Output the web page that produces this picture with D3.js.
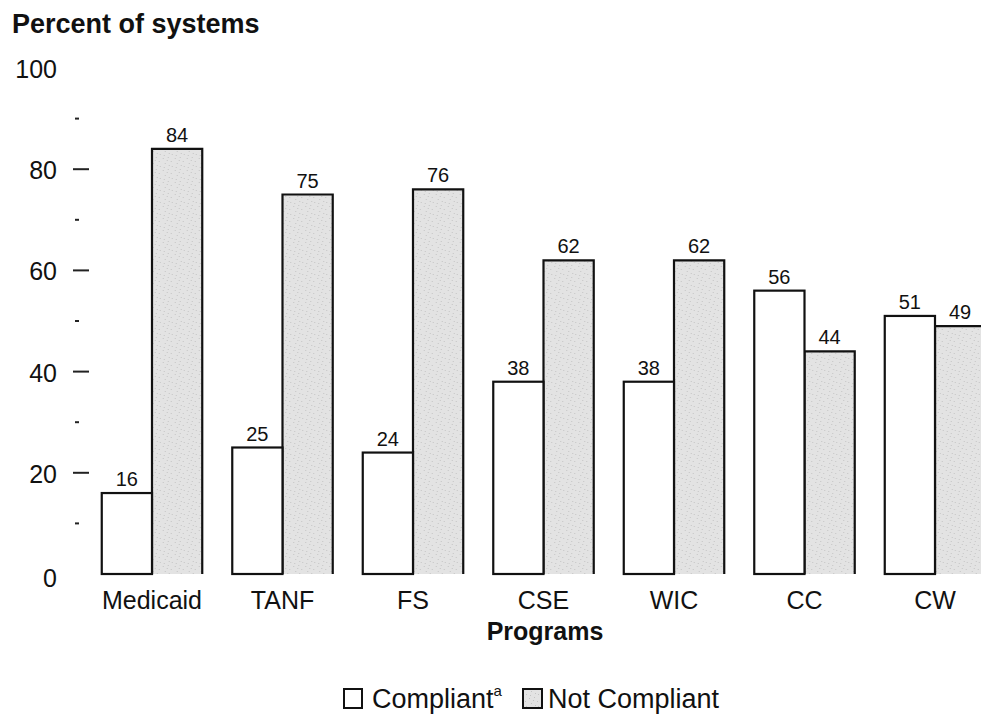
<!DOCTYPE html>
<html>
<head>
<meta charset="utf-8">
<script src="https://cdn.jsdelivr.net/npm/d3@7"></script>
<style>
  body { margin: 0; background: #fff; }
  svg { display: block; font-family: "Liberation Sans", Arial, Helvetica, sans-serif; }
</style>
</head>
<body>
<div id="container"></div>
<script>
// ---------------- data ----------------
var programs = ["Medicaid", "TANF", "FS", "CSE", "WIC", "CC", "CW"];
var compliant = [16, 25, 24, 38, 38, 56, 51];
var notCompliant = [84, 75, 76, 62, 62, 44, 49];
var seriesNames = ["Compliant", "Not Compliant"];
var majorTicks = [0, 20, 40, 60, 80, 100];
var minorTicks = [10, 30, 50, 70, 90];

// ---------------- setup ----------------
var width = 981;
var height = 727;

var svg = d3.select("#container").append("svg")
    .attr("width", width)
    .attr("height", height);

// stippled grey fill for the "not compliant" bars
var defs = svg.append("defs");
var pat = defs.append("pattern")
    .attr("id", "stipple")
    .attr("patternUnits", "userSpaceOnUse")
    .attr("width", 12)
    .attr("height", 12);
pat.append("rect").attr("width", 12).attr("height", 12).attr("fill", "#e3e3e3");
[[1, 2], [6, 1], [9, 5], [3, 7], [7, 9], [10, 10], [2, 11], [5, 4]].forEach(function (p) {
    pat.append("rect").attr("x", p[0]).attr("y", p[1]).attr("width", 1).attr("height", 1)
        .attr("fill", "#c4c4c4");
});

// ---------------- scales ----------------
var x0 = d3.scaleBand()
    .domain(programs)
    .range([86.75, 1000.25])
    .paddingInner(0.23)
    .paddingOuter(0.115);

var x1 = d3.scaleBand()
    .domain(seriesNames)
    .range([0, x0.bandwidth()]);

var y = d3.scaleLinear()
    .domain([0, 100])
    .range([574, 68]);

// ---------------- y axis (ticks only, no line) ----------------
svg.append("text")
    .attr("x", 12)
    .attr("y", 33)
    .style("font-size", "27px")
    .style("font-weight", "bold")
    .style("fill", "#111")
    .text("Percent of systems");

var yax = svg.append("g");
yax.selectAll("text.tick")
    .data(majorTicks)
    .enter().append("text")
    .attr("x", 57)
    .attr("y", function (d) { return y(d) + (d === 0 ? 13 : 10); })
    .attr("text-anchor", "end")
    .style("font-size", "25px")
    .style("fill", "#111")
    .text(function (d) { return d; });

yax.selectAll("line.major")
    .data(majorTicks.filter(function (d) { return d > 0 && d < 100; }))
    .enter().append("line")
    .attr("x1", 73).attr("x2", 89)
    .attr("y1", function (d) { return y(d); })
    .attr("y2", function (d) { return y(d); })
    .attr("stroke", "#222")
    .attr("stroke-width", 2);

yax.selectAll("line.minor")
    .data(minorTicks)
    .enter().append("line")
    .attr("x1", 75).attr("x2", 79)
    .attr("y1", function (d) { return y(d); })
    .attr("y2", function (d) { return y(d); })
    .attr("stroke", "#222")
    .attr("stroke-width", 2);

// ---------------- bars ----------------
var rows = programs.map(function (p, i) {
    return { program: p, values: [compliant[i], notCompliant[i]] };
});

var groups = svg.selectAll("g.grp")
    .data(rows)
    .enter().append("g")
    .attr("class", "grp")
    .attr("transform", function (d) { return "translate(" + x0(d.program) + ",0)"; });

// not compliant: grey, open at the bottom
groups.append("path")
    .attr("d", function (d) {
        var bx = x1("Not Compliant"), bw = x1.bandwidth();
        return "M" + bx + "," + y(0) + "V" + y(d.values[1]) + "H" + (bx + bw) + "V" + y(0);
    })
    .attr("fill", "url(#stipple)")
    .attr("stroke", "#111")
    .attr("stroke-width", 2.2);

// compliant: white, closed box
groups.append("rect")
    .attr("x", x1("Compliant"))
    .attr("width", x1.bandwidth())
    .attr("y", function (d) { return y(d.values[0]); })
    .attr("height", function (d) { return y(0) - y(d.values[0]); })
    .attr("fill", "#fff")
    .attr("stroke", "#111")
    .attr("stroke-width", 2.2);

// value labels
groups.selectAll("text.val")
    .data(function (d) { return d.values.map(function (v, i) { return { key: seriesNames[i], value: v }; }); })
    .enter().append("text")
    .attr("class", "val")
    .attr("x", function (d) { return x1(d.key) + x1.bandwidth() / 2; })
    .attr("y", function (d) { return y(d.value) - 7; })
    .attr("text-anchor", "middle")
    .style("font-size", "20px")
    .style("fill", "#111")
    .text(function (d) { return d.value; });

// category labels
groups.append("text")
    .attr("x", x0.bandwidth() / 2)
    .attr("y", 609)
    .attr("text-anchor", "middle")
    .style("font-size", "25px")
    .style("fill", "#111")
    .text(function (d) { return d.program; });

svg.append("text")
    .attr("x", 545)
    .attr("y", 640)
    .attr("text-anchor", "middle")
    .style("font-size", "25px")
    .style("font-weight", "bold")
    .style("fill", "#111")
    .text("Programs");

// ---------------- legend ----------------
var legend = svg.append("g");
legend.append("rect")
    .attr("x", 344).attr("y", 689).attr("width", 18).attr("height", 19)
    .attr("fill", "#fff").attr("stroke", "#111").attr("stroke-width", 2);
var lt = legend.append("text")
    .attr("x", 372).attr("y", 708)
    .style("font-size", "27px")
    .style("fill", "#111");
lt.append("tspan").text("Compliant");
lt.append("tspan").attr("dy", -12).style("font-size", "15px").text("a");

legend.append("rect")
    .attr("x", 523).attr("y", 689).attr("width", 19).attr("height", 19)
    .attr("fill", "url(#stipple)").attr("stroke", "#111").attr("stroke-width", 2);
legend.append("text")
    .attr("x", 548).attr("y", 708)
    .style("font-size", "27px")
    .style("fill", "#111")
    .text("Not Compliant");
</script>
</body>
</html>
